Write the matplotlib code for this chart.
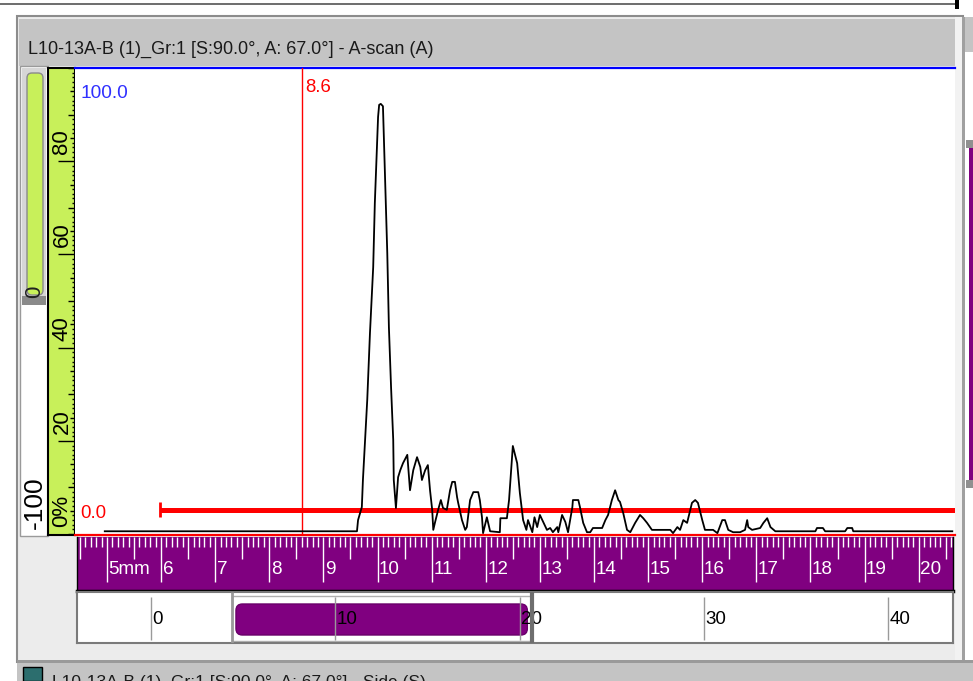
import matplotlib
matplotlib.use("Agg")
import matplotlib.pyplot as plt
from matplotlib import font_manager
from matplotlib.patches import Rectangle, FancyBboxPatch

# A-scan trace: depth (mm) and amplitude (%)
depth_mm = [4.96, 9.62, 9.64, 9.71, 9.73, 9.77, 9.81, 9.86, 9.92, 9.95, 9.99, 10.01, 10.03,
            10.06, 10.10, 10.14, 10.18, 10.21, 10.25, 10.29, 10.30, 10.34, 10.38, 10.42, 10.47,
            10.55, 10.60, 10.66, 10.73, 10.79, 10.82, 10.88, 10.93, 10.97, 11.01, 11.03, 11.06,
            11.12, 11.17, 11.21, 11.28, 11.34, 11.38, 11.43, 11.47, 11.49, 11.56, 11.62, 11.65,
            11.71, 11.77, 11.86, 11.89, 11.93, 11.95, 12.02, 12.08, 12.26, 12.27, 12.39, 12.43,
            12.50, 12.58, 12.63, 12.69, 12.75, 12.78, 12.86, 12.90, 12.95, 13.00, 13.06, 13.13,
            13.19, 13.24, 13.32, 13.34, 13.41, 13.47, 13.52, 13.60, 13.61, 13.71, 13.74, 13.80,
            13.87, 13.93, 13.98, 14.15, 14.21, 14.26, 14.33, 14.39, 14.45, 14.48, 14.54, 14.61,
            14.67, 14.76, 14.85, 14.91, 14.98, 15.07, 15.41, 15.46, 15.54, 15.59, 15.65, 15.72,
            15.81, 15.87, 15.92, 16.00, 16.05, 16.20, 16.28, 16.37, 16.42, 16.48, 16.57, 16.70,
            16.79, 16.83, 16.85, 16.92, 17.07, 17.13, 17.20, 17.26, 17.35, 18.09, 18.12, 18.23,
            18.27, 18.64, 18.68, 18.77, 18.79, 20.62]
amp_pct = [0.6, 0.6, 3.0, 5.8, 11.6, 20.2, 28.8, 43.1, 57.3, 71.0, 83.0, 89.5, 92.1,
           92.3, 91.8, 76.0, 60.3, 44.4, 31.5, 20.2, 11.6, 5.6, 12.2, 13.7, 15.2,
           17.0, 9.4, 13.7, 16.5, 14.4, 11.6, 13.7, 14.8, 9.4, 5.2, 0.9, 2.4,
           5.2, 7.3, 5.6, 5.2, 9.4, 11.2, 11.2, 7.9, 6.7, 3.0, 0.9, 1.5,
           7.3, 9.0, 9.0, 7.3, 3.6, 0.2, 3.6, 0.6, 0.4, 3.4, 3.4, 7.3,
           18.9, 15.2, 8.8, 3.0, 0.9, 3.0, 0.4, 3.6, 1.5, 4.1, 2.6, 0.9,
           1.3, 0.4, 1.5, 0.4, 4.1, 2.6, 0.4, 5.8, 7.3, 7.3, 5.8, 2.4,
           0.4, 0.4, 1.3, 1.3, 3.0, 4.1, 7.3, 9.4, 7.3, 6.9, 4.5, 0.9,
           0.4, 2.4, 4.1, 3.4, 2.4, 0.9, 0.9, 0.2, 1.5, 0.9, 3.0, 2.4,
           6.7, 7.3, 6.7, 3.0, 0.9, 0.9, 0.2, 3.0, 3.0, 0.9, 0.4, 0.4,
           0.9, 3.0, 1.5, 0.9, 1.3, 2.4, 3.4, 1.5, 0.6, 0.6, 1.3, 1.3,
           0.6, 0.6, 1.3, 1.3, 0.6, 0.6]

cursor_mm = 8.6
gate_start_mm = 5.98
gate_level_pct = 5.2
view_mm = [4.41, 20.67]          # visible depth window, also the scroll thumb
ruler_mm = list(range(5, 21))
ruler_labels = ['5mm'] + [str(v) for v in range(6, 21)]
amp_ticks = [0, 20, 40, 60, 80]
amp_labels = ['0%', '20', '40', '60', '80']
scroll_ticks = [0, 10, 20, 30, 40]
scroll_labels = ['0', '10', '20', '30', '40']
title = 'L10-13A-B (1)_Gr:1 [S:90.0°, A: 67.0°] - A-scan (A)'
side_title = 'L10-13A-B (1)_Gr:1 [S:90.0°, A: 67.0°] - Side (S)'

W, H = 973, 681
PURPLE = '#800080'
LIME = '#c8f05a'


def pick_font():
    for name in ['Liberation Sans Narrow', 'Arial Narrow', 'Liberation Sans']:
        try:
            font_manager.findfont(name, fallback_to_default=False)
            return name
        except ValueError:
            pass
    return 'DejaVu Sans'


plt.rcParams['font.family'] = pick_font()

fig = plt.figure(figsize=(W / 100, H / 100), dpi=100)
fig.patch.set_facecolor('white')


def px_axes(x0, y0, x1, y1, z=1):
    return fig.add_axes([x0 / W, 1 - y1 / H, (x1 - x0) / W, (y1 - y0) / H], zorder=z)


def bare(ax):
    ax.set_xticks([])
    ax.set_yticks([])


# window chrome, in pixel coords
bg = fig.add_axes([0, 0, 1, 1], zorder=0)
bg.set_xlim(0, W)
bg.set_ylim(H, 0)
bg.axis('off')


def box(x, y, w, h, fc, ec='none', lw=0, z=1):
    bg.add_patch(Rectangle((x, y), w, h, facecolor=fc, edgecolor=ec, linewidth=lw, zorder=z))


box(0, 3, 957, 2, '#707070')
box(955, 0, 4, 9, 'black')
box(17, 16, 946, 646, '#ececec', '#8c8c8c', 1.5)
box(19, 19, 942, 47, '#c4c4c4')
box(20, 66, 28, 470, 'white', '#9a9a9a', 1)
box(22, 68, 24, 229, '#d6d6d6')
bg.add_patch(FancyBboxPatch((27, 73), 16, 222, boxstyle='round,pad=0,rounding_size=5',
                            facecolor=LIME, edgecolor='#8a8a8a', linewidth=1, zorder=2))
box(22, 296, 24, 9, '#8a8a8a')
# right neighbour panel
box(955, 17, 7, 644, '#f2f2f2')
box(962, 17, 3, 644, '#a0a0a0')
box(965, 17, 8, 35, '#c4c4c4')
box(965, 52, 8, 609, 'white')
box(966, 140, 7, 8, '#909090')
box(969, 148, 4, 332, PURPLE)
box(966, 480, 7, 8, '#909090')
# bottom bar with the next view's title
box(17, 660, W - 17, 3, '#9a9a9a')
box(17, 663, W - 17, 18, '#c4c4c4')
box(23, 667, 19, 14, '#2c6e6e', 'black', 1, z=3)

t_title = bg.text(28, 49, title, ha='left', va='center', color='#1a1a1a', fontsize=15, zorder=5)
t_side = bg.text(52, 675, side_title, ha='left', va='top', color='#1a1a1a', fontsize=15, zorder=5)
bg.text(35, 298, '0', rotation=90, ha='center', va='bottom', fontsize=16, color='#202020', zorder=5)
bg.text(35, 529, '-100', rotation=90, ha='center', va='bottom', fontsize=19, color='black', zorder=5)

# amplitude ruler (lime)
la = px_axes(48, 68, 75, 535, z=2)
la.set_facecolor(LIME)
la.set_xlim(0, 27)
la.set_ylim(-0.2, 100)
bare(la)
for s in la.spines.values():
    s.set_color('black')
    s.set_linewidth(1.5)
for v in range(0, 101):
    if v in amp_ticks[1:]:
        L = 17
    elif v % 10 == 0:
        L = 7
    elif v % 5 == 0:
        L = 5
    else:
        L = 3
    la.hlines(v, 27 - L, 27, color='black', lw=1)
for v, lab in zip(amp_ticks, amp_labels):
    la.text(14, v + 1.5, lab, rotation=90, ha='center', va='bottom', fontsize=16, color='black')

# A-scan plot
ax = px_axes(75, 68, 955, 535, z=3)
ax.set_facecolor('white')
ax.set_xlim(view_mm)
ax.set_ylim(-0.2, 100)
bare(ax)
for s in ax.spines.values():
    s.set_visible(False)
ax.axhline(100, color='#0000ff', lw=1.6, clip_on=False)
ax.axhline(-0.2, color='red', lw=1.6, clip_on=False)
ax.axvline(cursor_mm, color='red', lw=1)
ax.hlines(gate_level_pct, gate_start_mm, view_mm[1], color='red', lw=3.6)
ax.vlines(gate_start_mm, gate_level_pct - 1.6, gate_level_pct + 1.6, color='red', lw=2)
ax.plot(depth_mm, amp_pct, color='black', lw=1.3)
t_cur = ax.annotate(f'{cursor_mm:.1f}', xy=(cursor_mm, 100), xytext=(3, -11),
                    textcoords='offset pixels', ha='left', va='top', color='red', fontsize=14)
t_top = ax.annotate('100.0', xy=(0, 1), xycoords='axes fraction', xytext=(5, -17),
                    textcoords='offset pixels', ha='left', va='top', color='#3030ff', fontsize=14)
t_zero = ax.annotate('0.0', xy=(0, 0), xycoords='axes fraction', xytext=(5, 13),
                     textcoords='offset pixels', ha='left', va='bottom', color='red', fontsize=14)

# depth ruler (purple)
ppm = (955 - 75) / (view_mm[1] - view_mm[0])
ra = px_axes(77, 537, 953, 591, z=2)
ra.set_facecolor(PURPLE)
ra.set_xlim(view_mm[0] + 2 / ppm, view_mm[1] - 2 / ppm)
ra.set_ylim(54, 0)
bare(ra)
for name, s in ra.spines.items():
    s.set_color('black')
    s.set_linewidth(2.5 if name == 'bottom' else 1)
ra.spines['top'].set_visible(False)
for i in range(44, 207):
    L = 45 if i % 10 == 0 else (22 if i % 5 == 0 else 10)
    ra.vlines(i / 10, 0, L, color='white', lw=1)
ruler_texts = [ra.text(v + 1.5 / ppm, 33, lab, ha='left', va='center', color='white', fontsize=14)
               for v, lab in zip(ruler_mm, ruler_labels)]

# scroll bar
spx = 18.43
sa = px_axes(77, 592, 953, 643, z=2)
sa.set_facecolor('white')
sa.set_xlim((77 - 151) / spx, (953 - 151) / spx)
sa.set_ylim(51, 0)
bare(sa)
for s in sa.spines.values():
    s.set_color('#7a7a7a')
    s.set_linewidth(1.5)
sa.add_patch(Rectangle((view_mm[0], 4), view_mm[1] - view_mm[0], 45, facecolor='none',
                       edgecolor='#b0b0b0', lw=1, zorder=1))
sa.add_patch(FancyBboxPatch((view_mm[0] + 0.2, 12), view_mm[1] - view_mm[0] - 0.45, 31,
                            boxstyle='round,pad=0,rounding_size=0.35', mutation_aspect=spx,
                            facecolor=PURPLE, edgecolor='#6a006a', lw=1, zorder=2))
sa.vlines(scroll_ticks, 5, 48, color='#9a9a9a', lw=1, zorder=3)
scroll_texts = [sa.text(v + 1.5 / spx, 27, lab, ha='left', va='center', color='black',
                        fontsize=14, zorder=4) for v, lab in zip(scroll_ticks, scroll_labels)]
sa.vlines(view_mm[0], 0, 51, color='#9a9a9a', lw=2, zorder=5)
sa.vlines(view_mm[1], 0, 51, color='#6e6e6e', lw=3, zorder=5)

# size the texts to the widths seen on screen (slightly wider, the screen font is condensed)
fig.canvas.draw()
rend = fig.canvas.get_renderer()


def fit(t, width_px):
    w = t.get_window_extent(rend).width
    size = t.get_fontsize() * width_px / w
    t.set_fontsize(size)
    return size


fit(t_title, 405)
fit(t_side, 375)
fit(t_top, 48)
fit(t_zero, 26)
fit(t_cur, 26)
rs = fit(ruler_texts[0], 42)
for t in ruler_texts:
    t.set_fontsize(rs)
ss = fit(scroll_texts[1], 21)
for t in scroll_texts:
    t.set_fontsize(ss)

fig.savefig('out.png', dpi=100)
